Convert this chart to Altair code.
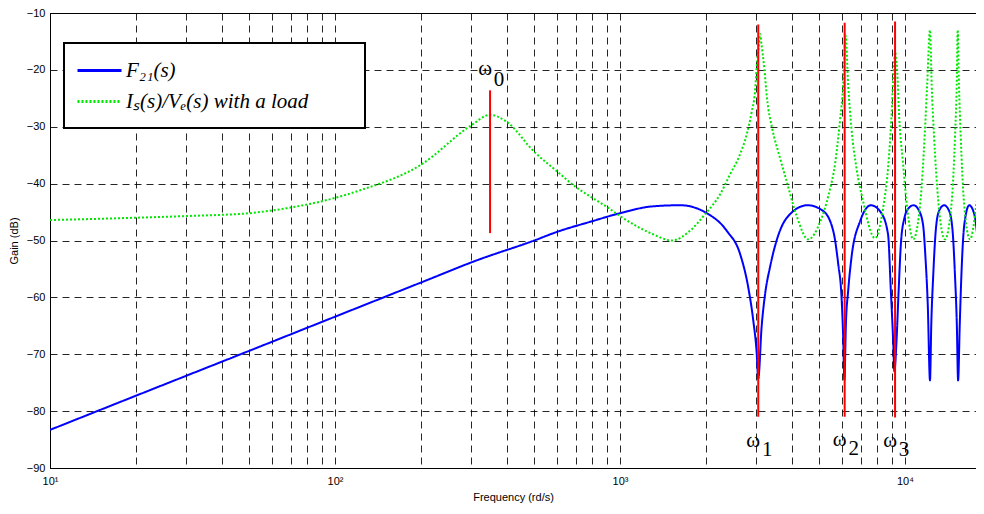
import altair as alt
import pandas as pd

# ---------------- data ----------------
series_names = ["F₂₁(s)", "Iₛ(s)/Vₑ(s) with a load"]

blue_freq = [10, 20, 50, 100, 200, 314, 500, 600, 800, 1000,
             1300, 1630, 2000, 2370, 2640, 2820, 2936, 3018, 3056, 3140,
             3230, 3360, 3540, 3850, 4550, 5160, 5600, 5830, 5990, 6070,
             6130, 6205, 6320, 6490, 6960, 7600, 8240, 8720, 8920, 9090,
             9180, 9330, 9500, 9690, 9960, 10310, 10730, 11160, 11570, 11800,
             12020, 12240, 12370, 12570, 12820, 13170, 13720, 14290, 14690, 14970,
             15200, 15360, 15570, 15780, 16150, 16810, 17510, 18240]
blue_gain = [-83.3, -77.3, -69.4, -63.4, -57.4, -53.5, -50.0, -48.5, -46.6, -45.2,
             -44.0, -43.8, -45.1, -48.3, -52.4, -58.3, -64.1, -69.8, -74.3, -65.2,
             -59.4, -54.7, -50.1, -46.0, -43.8, -44.8, -48.3, -54.1, -60.0, -67.0,
             -74.5, -64.6, -58.8, -53.0, -46.6, -43.8, -45.1, -48.9, -58.8, -67.6,
             -73.0, -68.1, -58.8, -50.1, -46.0, -44.3, -43.8, -44.6, -47.2, -53.0,
             -61.2, -74.6, -64.6, -55.9, -48.3, -44.8, -43.8, -44.8, -48.3, -55.9,
             -64.6, -74.6, -64.6, -55.9, -47.2, -43.8, -45.4, -53.0]

green_freq = [10, 20, 30, 50, 70, 90, 122,
              200, 300, 350, 400, 500,
              600, 700, 800, 900, 1000,
              1175, 1306, 1520, 1760, 1986,
              2244, 2432, 2635, 2782, 2898,
              2976, 3015, 3070, 3105, 3130,
              3210, 3280, 3420, 3615, 3845,
              4150, 4577, 5050, 5400, 5700,
              5910, 6070, 6190, 6320, 6490,
              6760, 7130, 7850, 8380, 8720,
              8960, 9130, 9230, 9380, 9550,
              9830, 10180, 10690, 11330, 11730,
              11960, 12240, 12410, 12640, 13090,
              13810, 14590, 14990, 15190, 15310,
              15470, 15680, 16100, 16910, 17840]
green_gain = [-46.4, -46.0, -45.7, -45.2, -44.2, -43.1, -41.2,
              -36.7, -29.8, -27.9, -29.1, -34.4,
              -37.8, -40.6, -42.5, -44.1, -45.7,
              -47.8, -48.9, -50.0, -48.3, -45.4,
              -41.9, -38.4, -34.9, -31.4, -27.4,
              -23.9, -19.8, -15.7, -13.7, -15.1,
              -19.8, -25.0, -30.3, -34.9, -39.6,
              -45.4, -49.8, -46.6, -41.9, -36.1,
              -29.1, -22.7, -13.9, -22.7, -30.3,
              -37.3, -43.1, -49.6, -44.3, -37.3,
              -28.5, -19.8, -16.9, -19.8, -28.5,
              -36.1, -44.3, -49.8, -43.1, -31.4,
              -22.7, -13.0, -22.7, -31.4, -43.1,
              -49.8, -43.1, -31.4, -22.7, -13.0,
              -22.7, -31.4, -43.1, -49.8, -43.1]

# red marker lines (omega_0 .. omega_3)
marker_freq = [350, 3056, 6143, 9230]
marker_top = [-23.6, -12.0, -11.7, -11.5]
marker_bottom = [-48.7, -81.0, -81.0, -81.1]
marker_symbol = ["ω", "ω", "ω", "ω"]
marker_sub = ["0", "1", "2", "3"]
marker_sym_gain = [-19.8, -85.3, -85.0, -85.3]
marker_sub_gain = [-21.7, -86.9, -86.7, -86.9]

x_tick_values = [10, 20, 30, 40, 50, 60, 70, 80, 90,
                 100, 200, 300, 400, 500, 600, 700, 800, 900,
                 1000, 2000, 3000, 4000, 5000, 6000, 7000, 8000, 9000,
                 10000]
y_tick_values = [-90, -80, -70, -60, -50, -40, -30, -20, -10]
x_domain = [10, 17750]
y_domain = [-90, -10]

# ---------------- tables ----------------
# blank (non-whitespace) pattern characters after each legend entry widen the legend frame
legend_names = [name + "\u2800\u2002\u2800" for name in series_names]

curves = pd.concat([
    pd.DataFrame({"freq": blue_freq, "gain": blue_gain, "series": legend_names[0]}),
    pd.DataFrame({"freq": green_freq, "gain": green_gain, "series": legend_names[1]}),
], ignore_index=True)

markers = pd.DataFrame({
    "freq": marker_freq, "gain": marker_top, "gain2": marker_bottom,
    "sym": marker_symbol, "sub": marker_sub,
    "sym_gain": marker_sym_gain, "sub_gain": marker_sub_gain,
})

x_scale = alt.Scale(type="log", domain=x_domain, nice=False)
y_scale = alt.Scale(domain=y_domain, nice=False)

label_expr = ("datum.value == 10 ? '10¹' : datum.value == 100 ? '10²' : "
              "datum.value == 1000 ? '10³' : datum.value == 10000 ? '10⁴' : ''")

x_axis = alt.Axis(values=x_tick_values, labelExpr=label_expr, title="Frequency (rd/s)")
y_axis = alt.Axis(values=y_tick_values, title="Gain (dB)")

lines = alt.Chart(curves).mark_line(interpolate="monotone", strokeWidth=2, clip=True).encode(
    x=alt.X("freq:Q", scale=x_scale, axis=x_axis),
    y=alt.Y("gain:Q", scale=y_scale, axis=y_axis),
    color=alt.Color("series:N", sort=legend_names,
                    scale=alt.Scale(domain=legend_names, range=["#0000ff", "#00e600"]),
                    legend=alt.Legend(title=None)),
    strokeDash=alt.StrokeDash("series:N", sort=legend_names,
                              scale=alt.Scale(domain=legend_names, range=[[1, 0], [2, 2]]),
                              legend=alt.Legend(title=None)),
)

rules = alt.Chart(markers).mark_rule(color="#ff0000", strokeWidth=2).encode(
    x=alt.X("freq:Q", scale=x_scale, axis=x_axis),
    y=alt.Y("gain:Q", scale=y_scale, axis=y_axis),
    y2="gain2:Q",
)

sym_text = alt.Chart(markers).mark_text(
    font="Liberation Serif", fontSize=21, color="black", baseline="middle", align="center", dx=-5
).encode(
    x=alt.X("freq:Q", scale=x_scale, axis=x_axis),
    y=alt.Y("sym_gain:Q", scale=y_scale, axis=y_axis),
    text="sym:N",
)

sub_text = alt.Chart(markers).mark_text(
    font="Liberation Serif", fontSize=21, color="black", baseline="middle", align="center", dx=9
).encode(
    x=alt.X("freq:Q", scale=x_scale, axis=x_axis),
    y=alt.Y("sub_gain:Q", scale=y_scale, axis=y_axis),
    text="sub:N",
)

chart = alt.layer(lines, rules, sym_text, sub_text).properties(
    width=926,
    height=455,
    autosize=alt.AutoSizeParams(type="none"),
    padding={"left": 42, "top": 5, "right": 0, "bottom": 35},
    background="white",
).configure_view(
    stroke="black", strokeWidth=1
).configure_axis(
    labelFont="Liberation Sans", labelFontSize=11, labelColor="black",
    titleFont="Liberation Sans", titleFontSize=11, titleFontWeight="normal", titleColor="black",
    domainColor="black", domainWidth=1,
    grid=True, gridColor="black", gridDash=[7, 5], gridOpacity=0.85, gridWidth=1,
    ticks=False, labelPadding=5,
).configure_axisX(
    labelFlush=False, labelPadding=7, titlePadding=5
).configure_axisY(
    titlePadding=7
).configure_legend(
    orient="none", legendX=14, legendY=30,
    strokeColor="black", strokeWidth=2, fillColor="white", padding=16,
    symbolType="M-1.4,0H3", symbolSize=400, symbolStrokeWidth=3,
    labelFont="Liberation Serif", labelFontSize=21, labelFontStyle="italic", labelColor="black",
    labelOffset=23, labelLimit=600, rowPadding=9,
)

chart.save("out.html", embed_options={"renderer": "svg", "actions": False})
